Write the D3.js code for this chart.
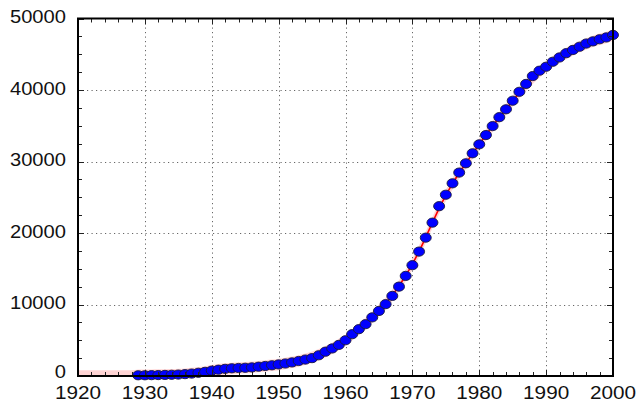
<!DOCTYPE html>
<html>
<head>
<meta charset="utf-8">
<script src="https://cdn.jsdelivr.net/npm/d3@7"></script>
<style>
  html, body { margin: 0; padding: 0; background: #fff; }
  svg { display: block; }
</style>
</head>
<body>
<svg id="chart" width="638" height="404"></svg>
<script>
// ---- data ----
const years = d3.range(1929, 2001);
const values = [
  100, 100, 120, 130, 150, 170, 200, 260, 340, 450,
  580, 750, 880, 1000, 1080, 1120, 1150, 1200, 1300, 1400,
  1500, 1620, 1750, 1900, 2100, 2300, 2500, 2900, 3400, 3850,
  4350, 5000, 5850, 6550, 7250, 8200, 9100, 10050, 11200, 12500,
  14000, 15500, 17400, 19350, 21450, 23750, 25350, 26950, 28450, 29750,
  31150, 32400, 33700, 34950, 36200, 37300, 38500, 39750, 40850, 41950,
  42700, 43250, 43950, 44550, 45150, 45600, 46050, 46500, 46800, 47100,
  47350, 47700
];
const fitYears = d3.range(1920, 2001);
const fitValues = [
  0, 0, 0, 0, 0, 0, 0, 0, 0,
  100, 110, 120, 130, 150, 175, 210, 260, 340, 450,
  580, 740, 870, 980, 1060, 1120, 1170, 1230, 1310, 1400,
  1500, 1620, 1760, 1920, 2110, 2340, 2620, 2960, 3380, 3860,
  4400, 5020, 5750, 6520, 7330, 8230, 9150, 10150, 11300, 12600,
  14050, 15650, 17450, 19400, 21450, 23450, 25250, 26900, 28400, 29750,
  31100, 32400, 33700, 34950, 36150, 37300, 38450, 39600, 40650, 41650,
  42500, 43250, 43950, 44550, 45100, 45600, 46050, 46450, 46800, 47100,
  47350, 47650
];
const bandHalfWidth = 800;
const xTicks = [1920, 1930, 1940, 1950, 1960, 1970, 1980, 1990, 2000];
const yTicks = [0, 10000, 20000, 30000, 40000, 50000];

// ---- layout ----
const svg = d3.select("#chart");
const pL = 78, pR = 613, pT = 18.5, pB = 376;
const x = d3.scaleLinear().domain([1920, 2000]).range([pL, pR]);
const y = d3.scaleLinear().domain([0, 50000]).range([pB, pT]);

svg.append("defs").append("clipPath").attr("id", "clip")
  .append("rect").attr("x", pL).attr("y", pT)
  .attr("width", pR - pL).attr("height", pB - pT);

// grid
const grid = svg.append("g").attr("stroke", "#666").attr("stroke-width", 1)
  .attr("stroke-dasharray", "1.2,3.3").attr("fill", "none");
xTicks.slice(1, -1).forEach(t => grid.append("line")
  .attr("x1", Math.round(x(t)) + 0.5).attr("x2", Math.round(x(t)) + 0.5)
  .attr("y1", pT).attr("y2", pB));
yTicks.slice(1, -1).forEach(t => grid.append("line")
  .attr("y1", Math.round(y(t)) + 0.5).attr("y2", Math.round(y(t)) + 0.5)
  .attr("x1", pL).attr("x2", pR));

// band + fit line
const plot = svg.append("g").attr("clip-path", "url(#clip)");
const fitData = fitYears.map((yr, i) => ({ yr, v: fitValues[i] }));
plot.append("path").datum(fitData)
  .attr("fill", "#ff0000").attr("fill-opacity", 0.17)
  .attr("d", d3.area().curve(d3.curveMonotoneX)
    .x(d => x(d.yr)).y0(d => y(d.v - bandHalfWidth)).y1(d => y(d.v + bandHalfWidth)));
plot.append("path").datum(fitData)
  .attr("fill", "none").attr("stroke", "#ff0000").attr("stroke-width", 1.6)
  .attr("d", d3.line().curve(d3.curveMonotoneX).x(d => x(d.yr)).y(d => y(d.v)));

// points
svg.append("g").selectAll("ellipse").data(years.map((yr, i) => ({ yr, v: values[i] })))
  .join("ellipse")
  .attr("cx", d => x(d.yr)).attr("cy", d => y(d.v))
  .attr("rx", 5.5).attr("ry", 4.6)
  .attr("fill", "#0000ff").attr("stroke", "#1a1a40").attr("stroke-width", 0.9);

// axes (ticks inward on all sides)
const xMinor = d3.range(1920, 2001, 2);
const yMinor = d3.range(0, 50001, 2500);
const ticks = svg.append("g").attr("stroke", "#222").attr("stroke-width", 1);
xMinor.forEach(t => {
  const len = (t % 10 === 0) ? 6 : 4;
  const xx = Math.round(x(t)) + 0.5;
  ticks.append("line").attr("x1", xx).attr("x2", xx).attr("y1", pB).attr("y2", pB - len);
  ticks.append("line").attr("x1", xx).attr("x2", xx).attr("y1", pT).attr("y2", pT + len);
});
yMinor.forEach(t => {
  const len = (t % 10000 === 0) ? 6 : 4;
  const yy = Math.round(y(t)) + 0.5;
  ticks.append("line").attr("y1", yy).attr("y2", yy).attr("x1", pL).attr("x2", pL + len);
  ticks.append("line").attr("y1", yy).attr("y2", yy).attr("x1", pR).attr("x2", pR - len);
});

svg.append("rect").attr("x", pL).attr("y", pT)
  .attr("width", pR - pL).attr("height", pB - pT)
  .attr("fill", "none").attr("stroke", "#000").attr("stroke-width", 2);

// labels
const font = "'Liberation Sans', Arial, Helvetica, sans-serif";
const sx = 1.12;
yTicks.forEach(t => {
  const dy = t === 0 ? 2.3 : 4.5;
  svg.append("text")
    .attr("transform", `translate(${pL - 12},${y(t) + dy}) scale(${sx},1)`)
    .attr("text-anchor", "end").attr("font-family", font).attr("font-size", 18)
    .attr("fill", "#111").text(d3.format("d")(t));
});
xTicks.forEach(t => {
  svg.append("text")
    .attr("transform", `translate(${x(t)},${399}) scale(${sx},1)`)
    .attr("text-anchor", "middle").attr("font-family", font).attr("font-size", 18.5)
    .attr("fill", "#111").text(t);
});
</script>
</body>
</html>
